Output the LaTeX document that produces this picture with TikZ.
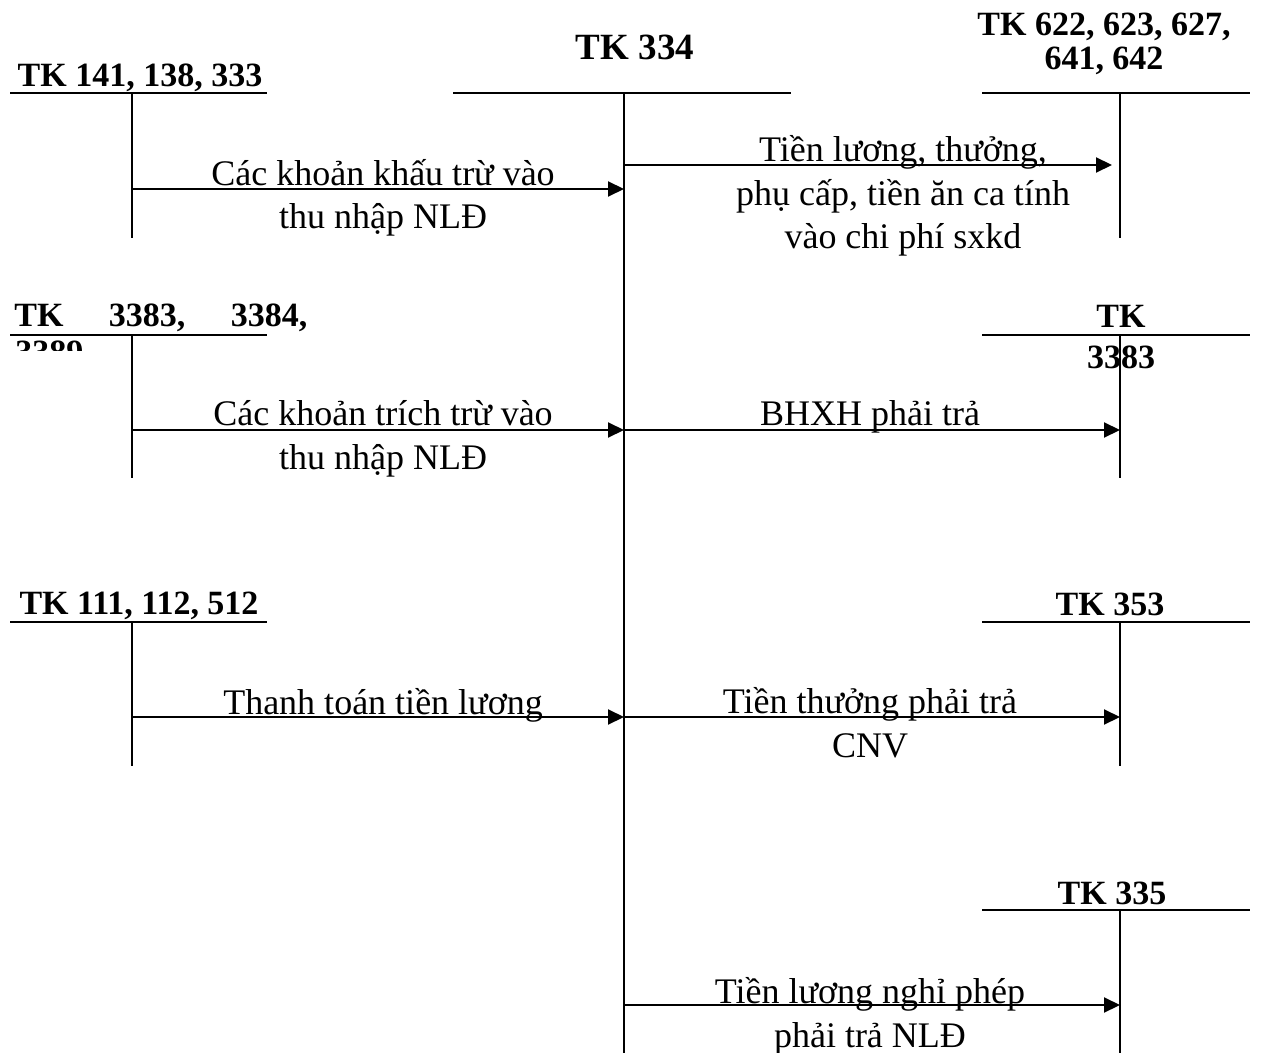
\documentclass[tikz,border=0pt]{standalone}
\usepackage{fontspec}
\setmainfont{Liberation Serif}
\usepackage{tikz}
\usetikzlibrary{arrows.meta, positioning}

\begin{document}
\begin{tikzpicture}[
    x=0.5pt, y=-0.5pt,
    tline/.style={line width=1pt},
    arrow/.style={-{Triangle[length=8pt, width=7.5pt]}, line width=1pt},
    txt/.style={inner sep=0pt, anchor=base, align=center, font=\fontsize{18}{21.8}\selectfont},
    acc/.style={inner sep=0pt, anchor=base, align=center, font=\fontsize{17}{17}\selectfont\bfseries}
]
\useasboundingbox (0,0) rectangle (1262,1053);

% tai khoan 334 o giua
\node[inner sep=0pt, anchor=base, font=\fontsize{18.5}{22}\selectfont\bfseries] (l334) at (635,60) {TK 334};
\coordinate (t334) at (624,93);
\draw[tline] (453,93) -- (791,93);
\draw[tline] (t334) -- (624,1053);

% cot trai
\node[acc] (l141) at (140,87) {TK 141, 138, 333};
\coordinate (t141) at (132,93);
\draw[tline] (10,93) -- (267,93);
\draw[tline] (t141) -- ++(0,145);

\node[acc, anchor=base west] (l3383a) at (14,327) {\makebox[146.5pt][s]{TK\hfill 3383,\hfill 3384,}};
\begin{scope}
\clip (0,337) rectangle (300,351);
\node[acc, anchor=base west] (l3389) at (15,364) {3389};
\end{scope}
\coordinate (t3383a) at (132,335);
\draw[tline] (10,335) -- (267,335);
\draw[tline] (t3383a) -- ++(0,143);

\node[acc] (l111) at (139,614) {TK 111, 112, 512};
\coordinate (t111) at (132,622);
\draw[tline] (10,622) -- (267,622);
\draw[tline] (t111) -- ++(0,144);

% cot phai (base = dong cuoi)
\node[acc] (l622) at (1104,70) {TK 622, 623, 627,\\641, 642};
\coordinate (t622) at (1120,93);
\draw[tline] (982,93) -- (1250,93);
\draw[tline] (t622) -- ++(0,145);

\node[acc, font=\fontsize{17}{20.5}\selectfont\bfseries] (l3383b) at (1121,368) {TK\\3383};
\coordinate (t3383b) at (1120,335);
\draw[tline] (982,335) -- (1250,335);
\draw[tline] (t3383b) -- ++(0,143);

\node[acc] (l353) at (1110,615) {TK 353};
\coordinate (t353) at (1120,622);
\draw[tline] (982,622) -- (1250,622);
\draw[tline] (t353) -- ++(0,144);

\node[acc] (l335) at (1112,904) {TK 335};
\coordinate (t335) at (1120,910);
\draw[tline] (982,910) -- (1250,910);
\draw[tline] (t335) -- (1120,1053);

% cac nghiep vu
\coordinate (y1) at (0,189);
\coordinate (y1b) at (0,165);
\coordinate (y2) at (0,430);
\coordinate (y3) at (0,717);
\coordinate (y4) at (0,1005);

\draw[arrow] (t141 |- y1) -- (t334 |- y1);
\node[txt] (n1) at (383,229) {Các khoản khấu trừ vào\\thu nhập NLĐ};
\draw[arrow] (t334 |- y1b) -- ([xshift=-4] t622 |- y1b);
\node[txt] (n2) at (903,249) {Tiền lương, thưởng,\\phụ cấp, tiền ăn ca tính\\vào chi phí sxkd};

\draw[arrow] (t3383a |- y2) -- (t334 |- y2);
\node[txt] (n3) at (383,469) {Các khoản trích trừ vào\\thu nhập NLĐ};
\draw[arrow] (t334 |- y2) -- (t3383b |- y2);
\node[txt] (n4) at (870,425) {BHXH phải trả};

\draw[arrow] (t111 |- y3) -- (t334 |- y3);
\node[txt] (n5) at (383,714) {Thanh toán tiền lương};
\draw[arrow] (t334 |- y3) -- (t353 |- y3);
\node[txt] (n6) at (870,757) {Tiền thưởng phải trả\\CNV};

\draw[arrow] (t334 |- y4) -- (t335 |- y4);
\node[txt] (n7) at (870,1047) {Tiền lương nghỉ phép\\phải trả NLĐ};

\end{tikzpicture}
\end{document}
